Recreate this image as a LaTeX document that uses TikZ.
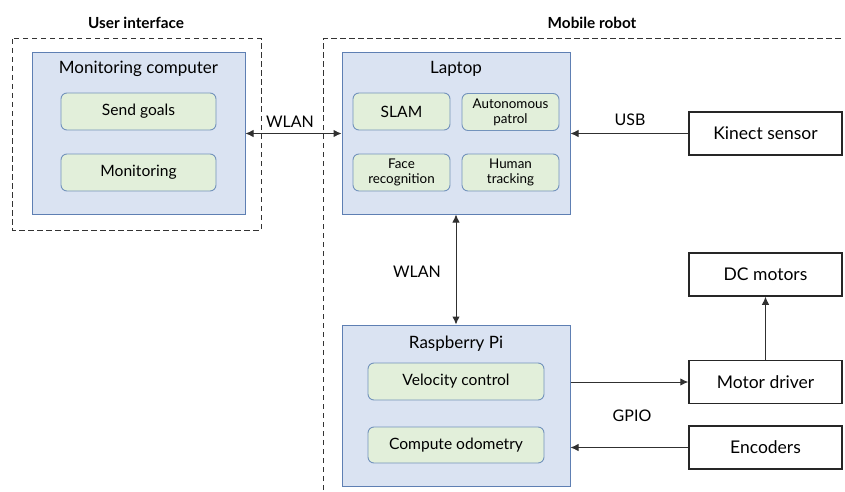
\documentclass[tikz,border=0pt]{standalone}
\usepackage{fontspec}
\setmainfont{Lato}
\usetikzlibrary{arrows.meta}
\definecolor{hostfill}{HTML}{DAE3F2}
\definecolor{hostline}{HTML}{5E7FB3}
\definecolor{taskfill}{HTML}{E2EFDA}
\definecolor{taskline}{HTML}{7393BC}
\definecolor{wire}{HTML}{303030}
\begin{document}
\begin{tikzpicture}[x=1pt,y=-1pt,
  host/.style={draw=hostline,fill=hostfill,line width=1pt,inner sep=0pt},
  task/.style={draw=taskline,fill=taskfill,line width=0.9pt,rounded corners=6pt,inner sep=0pt,align=center,font=\fontsize{15.6}{15}\selectfont},
  smalltask/.style={task,font=\fontsize{13.4}{15}\selectfont},
  dev/.style={draw=black!85,line width=1.5pt,minimum width=153pt,minimum height=43pt,inner sep=0pt,font=\fontsize{17.5}{17}\selectfont},
  hosttitle/.style={font=\fontsize{17}{17}\selectfont,inner sep=0pt},
  group/.style={draw=black!80,line width=1pt,dash pattern=on 5.5pt off 3.5pt},
  grouptitle/.style={font=\fontsize{15.3}{15}\selectfont\bfseries,inner sep=0pt},
  link/.style={draw=wire,line width=1pt,-{Latex[length=8pt,width=7.5pt]}},
  biglink/.style={draw=wire,line width=1pt,{Latex[length=8pt,width=7.5pt]}-{Latex[length=8pt,width=7.5pt]}},
  lbl/.style={font=\fontsize{16}{16}\selectfont,inner sep=0pt}]
\useasboundingbox (0,0) rectangle (845,492);

% group frames
\draw[group] (12,39) rectangle (261,230);
\draw[group] (323,490) -- (323,39) -- (842,39);
\node[grouptitle] (uititle) at (136,23) {User interface};
\node[grouptitle] (robottitle) at (592,23) {Mobile robot};

% monitoring computer
\node[host,minimum width=213pt,minimum height=161pt] (mon) at (138.5,133.5) {};
\node[hosttitle] (montitle) at (138.5,69) {Monitoring computer};
\node[task,minimum width=155pt,minimum height=37pt] (goals) at (138.5,111.5) {Send goals};
\node[task,minimum width=155pt,minimum height=37pt] (monit) at (138.5,172.5) {Monitoring};

% laptop
\node[host,minimum width=228pt,minimum height=161pt] (lap) at (456,133.5) {};
\node[hosttitle] (laptitle) at (456,69) {Laptop};
\node[task,minimum width=97pt,minimum height=37pt] (slam) at (401.5,111.5) {SLAM};
\node[smalltask,minimum width=97pt,minimum height=37pt] (patrol) at (510.5,112) {Autonomous\\patrol};
\node[smalltask,minimum width=97pt,minimum height=37pt] (face) at (401.5,172.5) {Face\\recognition};
\node[smalltask,minimum width=97pt,minimum height=37pt] (human) at (510.5,172.5) {Human\\tracking};

% raspberry pi
\node[host,minimum width=228pt,minimum height=161pt] (rpi) at (456,405.5) {};
\node[hosttitle] (rpititle) at (456,344) {Raspberry Pi};
\node[task,minimum width=176pt,minimum height=37pt] (vel) at (456,381.5) {Velocity control};
\node[task,minimum width=176pt,minimum height=36pt] (odom) at (456,445) {Compute odometry};

% peripheral devices
\node[dev] (kinect) at (765.5,133.5) {Kinect sensor};
\node[dev] (dcm) at (765.5,274.5) {DC motors};
\node[dev] (drv) at (765.5,382) {Motor driver};
\node[dev] (enc) at (765.5,447.5) {Encoders};

% connections
\draw[biglink] (mon.east) -- (lap.west);
\node[lbl] (wlan1) at (290,122) {WLAN};
\draw[biglink] (lap.south) -- (rpi.north);
\node[lbl] (wlan2) at (417,272) {WLAN};
\draw[link] (kinect.west) -- (lap.east);
\node[lbl] (usb) at (630,120) {USB};
\draw[link] (rpi.east |- drv.west) -- (drv.west);
\draw[link] (enc.west) -- (rpi.east |- enc.west);
\node[lbl] (gpio) at (632,416) {GPIO};
\draw[link] (drv.north) -- (dcm.south);
\end{tikzpicture}
\end{document}
